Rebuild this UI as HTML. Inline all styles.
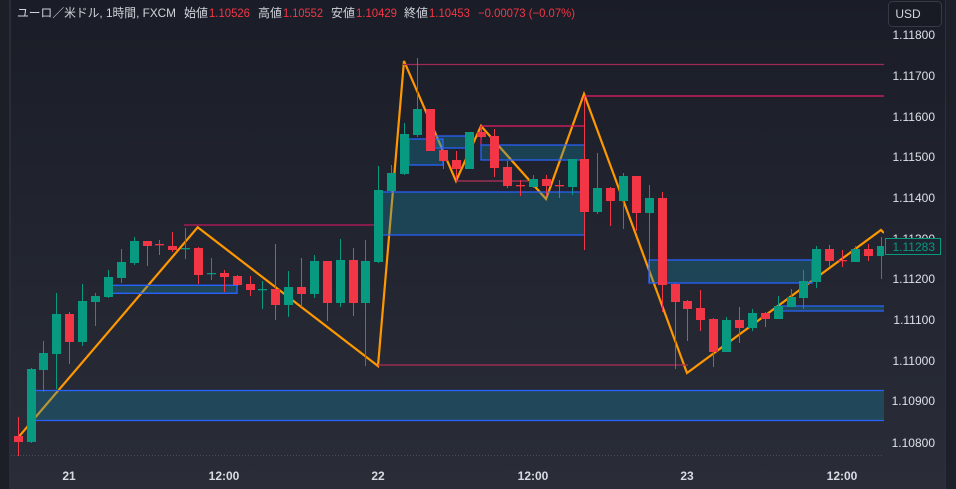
<!DOCTYPE html>
<html><head><meta charset="utf-8"><style>
html,body{margin:0;padding:0;background:#1e212b;}
svg{display:block}
text{font-family:"Liberation Sans","Noto Sans CJK JP",sans-serif;}
</style></head><body>
<svg width="956" height="489" viewBox="0 0 956 489" xmlns="http://www.w3.org/2000/svg">
<defs>
<linearGradient id="bg" x1="0" y1="0" x2="0" y2="1">
<stop offset="0" stop-color="#1a1d27"/>
<stop offset="1" stop-color="#2a2d38"/>
</linearGradient>
<clipPath id="ca"><rect x="11" y="0" width="873" height="456"/></clipPath>
</defs>
<rect x="0" y="0" width="956" height="489" fill="url(#bg)"/>
<rect x="0" y="0" width="9" height="489" fill="#1c1f28"/>
<rect x="9" y="0" width="2" height="489" fill="#2a2d37"/>
<rect x="946" y="0" width="10" height="489" fill="#1d2029"/>
<rect x="945" y="0" width="1" height="489" fill="#2c2f3a"/>

<line x1="11" y1="455.5" x2="884" y2="455.5" stroke="#4a4e5a" stroke-width="1" stroke-dasharray="1 2"/>

<g clip-path="url(#ca)">
<polyline points="18.3,437.3 197.7,227.3 378,366 404,61 456,181 481,126 546,199 584,94 687,373 881,230 884,233" fill="none" stroke="#ff9800" stroke-width="2.2" stroke-linejoin="miter"/>

<g stroke-width="1.3" fill="none">
<line x1="403" y1="64.5" x2="884" y2="64.5" stroke="#9e2a55"/>
<line x1="585" y1="96" x2="884" y2="96" stroke="#e91e63"/>
<line x1="481" y1="126" x2="585" y2="126" stroke="#e91e63"/>
<line x1="481" y1="126" x2="481" y2="145" stroke="#e91e63"/>
<line x1="456" y1="181" x2="528" y2="181" stroke="#b4325a"/>
<line x1="184" y1="225" x2="378" y2="225" stroke="#c2185b"/>
<line x1="378" y1="365" x2="688" y2="365" stroke="#b02a58"/>
</g>

<g fill="rgba(21,144,176,0.3)" stroke="none">
<rect x="36" y="391" width="848" height="29"/>
<rect x="113" y="285" width="124" height="8"/>
<rect x="382" y="192" width="203" height="43"/>
<rect x="409" y="139" width="34" height="26"/>
<rect x="435" y="136" width="32" height="12"/>
<rect x="481" y="145" width="104" height="15"/>
<rect x="649" y="260" width="163" height="23"/>
<rect x="780" y="306" width="104" height="5"/>
</g>
<g stroke="#2962ff" stroke-width="1.3" fill="none">
<line x1="36" y1="390.5" x2="884" y2="390.5"/>
<line x1="36" y1="420.5" x2="884" y2="420.5"/>
<polyline points="113,285.3 237,285.3 237,293.3 113,293.3"/>
<line x1="382" y1="192" x2="585" y2="192"/>
<line x1="382" y1="235" x2="585" y2="235"/>
<rect x="409" y="139" width="34" height="26"/>
<line x1="435" y1="136" x2="467" y2="136"/>
<line x1="435" y1="148" x2="467" y2="148"/>
<polyline points="585,145 481,145 481,160 585,160"/>
<rect x="649" y="260" width="163" height="23"/>
<line x1="780" y1="306" x2="884" y2="306"/>
<line x1="780" y1="311" x2="884" y2="311"/>
</g>

<g fill="#f23645">
<rect x="18" y="417" width="1" height="40"/><rect x="14" y="436" width="9" height="6"/>
<rect x="69" y="312" width="1" height="52"/><rect x="65" y="314" width="9" height="28"/>
<rect x="147" y="241" width="1" height="25"/><rect x="143" y="241" width="9" height="5"/>
<rect x="159" y="240" width="1" height="15"/><rect x="155" y="244" width="9" height="1.3"/>
<rect x="172" y="232" width="1" height="20"/><rect x="168" y="246" width="9" height="4"/>
<rect x="198" y="247" width="1" height="37"/><rect x="194" y="248" width="9" height="27"/>
<rect x="224" y="270" width="1" height="22"/><rect x="220" y="273" width="9" height="4"/>
<rect x="237" y="275" width="1" height="11"/><rect x="233" y="276" width="9" height="9"/>
<rect x="250" y="276" width="1" height="20"/><rect x="246" y="284" width="9" height="6"/>
<rect x="275" y="244" width="1" height="76"/><rect x="271" y="289" width="9" height="16"/>
<rect x="301" y="258" width="1" height="49"/><rect x="297" y="287" width="9" height="7"/>
<rect x="327" y="261" width="1" height="60"/><rect x="323" y="261" width="9" height="42"/>
<rect x="353" y="248" width="1" height="68"/><rect x="349" y="260" width="9" height="43"/>
<rect x="430" y="109" width="1" height="42"/><rect x="426" y="109" width="9" height="42"/>
<rect x="443" y="150" width="1" height="19"/><rect x="439" y="150" width="9" height="11"/>
<rect x="456" y="151" width="1" height="29"/><rect x="452" y="160" width="9" height="9"/>
<rect x="481" y="124" width="1" height="14"/><rect x="477" y="132" width="9" height="5"/>
<rect x="494" y="129" width="1" height="48"/><rect x="490" y="136" width="9" height="32"/>
<rect x="507" y="161" width="1" height="27"/><rect x="503" y="167" width="9" height="19"/>
<rect x="520" y="180" width="1" height="16"/><rect x="516" y="185" width="9" height="1.3"/>
<rect x="546" y="175" width="1" height="21"/><rect x="542" y="179" width="9" height="7"/>
<rect x="559" y="180" width="1" height="18"/><rect x="555" y="185" width="9" height="1.3"/>
<rect x="584" y="96" width="1" height="154"/><rect x="580" y="159" width="9" height="53"/>
<rect x="610" y="187" width="1" height="39"/><rect x="606" y="188" width="9" height="13"/>
<rect x="636" y="176" width="1" height="55"/><rect x="632" y="176" width="9" height="37"/>
<rect x="662" y="192" width="1" height="120"/><rect x="658" y="198" width="9" height="87"/>
<rect x="675" y="283" width="1" height="86"/><rect x="671" y="284" width="9" height="18"/>
<rect x="687" y="300" width="1" height="41"/><rect x="683" y="301" width="9" height="8"/>
<rect x="700" y="290" width="1" height="41"/><rect x="696" y="308" width="9" height="12"/>
<rect x="713" y="318" width="1" height="49"/><rect x="709" y="319" width="9" height="33"/>
<rect x="739" y="307" width="1" height="36"/><rect x="735" y="320" width="9" height="8"/>
<rect x="765" y="312" width="1" height="15"/><rect x="761" y="313" width="9" height="6"/>
<rect x="829" y="245" width="1" height="22"/><rect x="825" y="249" width="9" height="12"/>
<rect x="842" y="250" width="1" height="17"/><rect x="838" y="260" width="9" height="1.3"/>
<rect x="868" y="244" width="1" height="17"/><rect x="864" y="249" width="9" height="7"/>
</g>
<g fill="#089981">
<rect x="31" y="368" width="1" height="75"/><rect x="27" y="369" width="9" height="73"/>
<rect x="43" y="341" width="1" height="51"/><rect x="39" y="353" width="9" height="17"/>
<rect x="56" y="293" width="1" height="96"/><rect x="52" y="314" width="9" height="40"/>
<rect x="82" y="284" width="1" height="62"/><rect x="78" y="301" width="9" height="41"/>
<rect x="95" y="293" width="1" height="33"/><rect x="91" y="296" width="9" height="6"/>
<rect x="108" y="270" width="1" height="28"/><rect x="104" y="277" width="9" height="20"/>
<rect x="121" y="249" width="1" height="34"/><rect x="117" y="262" width="9" height="16"/>
<rect x="134" y="237" width="1" height="28"/><rect x="130" y="241" width="9" height="22"/>
<rect x="185" y="228" width="1" height="31"/><rect x="181" y="248" width="9" height="1.3"/>
<rect x="211" y="258" width="1" height="22"/><rect x="207" y="273" width="9" height="1.3"/>
<rect x="262" y="281" width="1" height="28"/><rect x="258" y="289" width="9" height="1.3"/>
<rect x="288" y="271" width="1" height="46"/><rect x="284" y="287" width="9" height="18"/>
<rect x="314" y="255" width="1" height="43"/><rect x="310" y="261" width="9" height="33"/>
<rect x="340" y="239" width="1" height="68"/><rect x="336" y="260" width="9" height="43"/>
<rect x="365" y="240" width="1" height="126"/><rect x="361" y="261" width="9" height="42"/>
<rect x="378" y="166" width="1" height="97"/><rect x="374" y="190" width="9" height="72"/>
<rect x="391" y="165" width="1" height="27"/><rect x="387" y="173" width="9" height="18"/>
<rect x="404" y="123" width="1" height="52"/><rect x="400" y="134" width="9" height="40"/>
<rect x="417" y="58" width="1" height="79"/><rect x="413" y="109" width="9" height="26"/>
<rect x="469" y="132" width="1" height="37"/><rect x="465" y="132" width="9" height="37"/>
<rect x="533" y="175" width="1" height="13"/><rect x="529" y="179" width="9" height="8"/>
<rect x="572" y="159" width="1" height="36"/><rect x="568" y="159" width="9" height="28"/>
<rect x="597" y="153" width="1" height="61"/><rect x="593" y="188" width="9" height="24"/>
<rect x="623" y="173" width="1" height="56"/><rect x="619" y="176" width="9" height="25"/>
<rect x="649" y="185" width="1" height="98"/><rect x="645" y="198" width="9" height="15"/>
<rect x="726" y="317" width="1" height="35"/><rect x="722" y="320" width="9" height="32"/>
<rect x="752" y="309" width="1" height="22"/><rect x="748" y="313" width="9" height="15"/>
<rect x="778" y="296" width="1" height="23"/><rect x="774" y="306" width="9" height="13"/>
<rect x="791" y="289" width="1" height="18"/><rect x="787" y="297" width="9" height="10"/>
<rect x="803" y="270" width="1" height="39"/><rect x="799" y="281" width="9" height="17"/>
<rect x="816" y="246" width="1" height="42"/><rect x="812" y="249" width="9" height="33"/>
<rect x="855" y="246" width="1" height="16"/><rect x="851" y="249" width="9" height="13"/>
<rect x="881" y="237" width="1" height="42"/><rect x="877" y="246" width="9" height="10"/>
</g>
</g>

<g font-size="12">
<text x="17" y="17" fill="#d1d4dc" textLength="159" lengthAdjust="spacingAndGlyphs">ユーロ／米ドル, 1時間, FXCM</text>
<text x="184" y="17" fill="#d1d4dc" textLength="24" lengthAdjust="spacingAndGlyphs">始値</text>
<text x="209" y="17" fill="#f23645" textLength="41" lengthAdjust="spacingAndGlyphs">1.10526</text>
<text x="258" y="17" fill="#d1d4dc" textLength="24" lengthAdjust="spacingAndGlyphs">高値</text>
<text x="283" y="17" fill="#f23645" textLength="40" lengthAdjust="spacingAndGlyphs">1.10552</text>
<text x="331" y="17" fill="#d1d4dc" textLength="24" lengthAdjust="spacingAndGlyphs">安値</text>
<text x="356" y="17" fill="#f23645" textLength="41" lengthAdjust="spacingAndGlyphs">1.10429</text>
<text x="404" y="17" fill="#d1d4dc" textLength="24" lengthAdjust="spacingAndGlyphs">終値</text>
<text x="429" y="17" fill="#f23645" textLength="41" lengthAdjust="spacingAndGlyphs">1.10453</text>
<text x="478" y="17" fill="#f23645" textLength="97" lengthAdjust="spacingAndGlyphs">−0.00073 (−0.07%)</text>
</g>

<g font-size="12" fill="#dde0e8" text-anchor="end">
<text x="935" y="39">1.11800</text>
<text x="935" y="80">1.11700</text>
<text x="935" y="121">1.11600</text>
<text x="935" y="161">1.11500</text>
<text x="935" y="202">1.11400</text>
<text x="935" y="243">1.11300</text>
<text x="935" y="283">1.11200</text>
<text x="935" y="324">1.11100</text>
<text x="935" y="365">1.11000</text>
<text x="935" y="405">1.10900</text>
<text x="935" y="447">1.10800</text>
</g>
<rect x="885.5" y="238.5" width="55" height="16" fill="#1f2530" stroke="#089981" stroke-width="1"/>
<text x="935" y="251" font-size="12" fill="#089981" text-anchor="end">1.11283</text>

<rect x="888.5" y="1.5" width="53" height="25" rx="4" fill="#181b24" stroke="#363a45" stroke-width="1"/>
<text x="908" y="18" font-size="12" fill="#d1d4dc" text-anchor="middle">USD</text>

<g font-size="12" fill="#d8dbe3" text-anchor="middle" font-weight="bold">
<text x="69" y="480">21</text>
<text x="224" y="480">12:00</text>
<text x="378" y="480">22</text>
<text x="533" y="480">12:00</text>
<text x="687" y="480">23</text>
<text x="842" y="480">12:00</text>
</g>
</svg>
</body></html>
